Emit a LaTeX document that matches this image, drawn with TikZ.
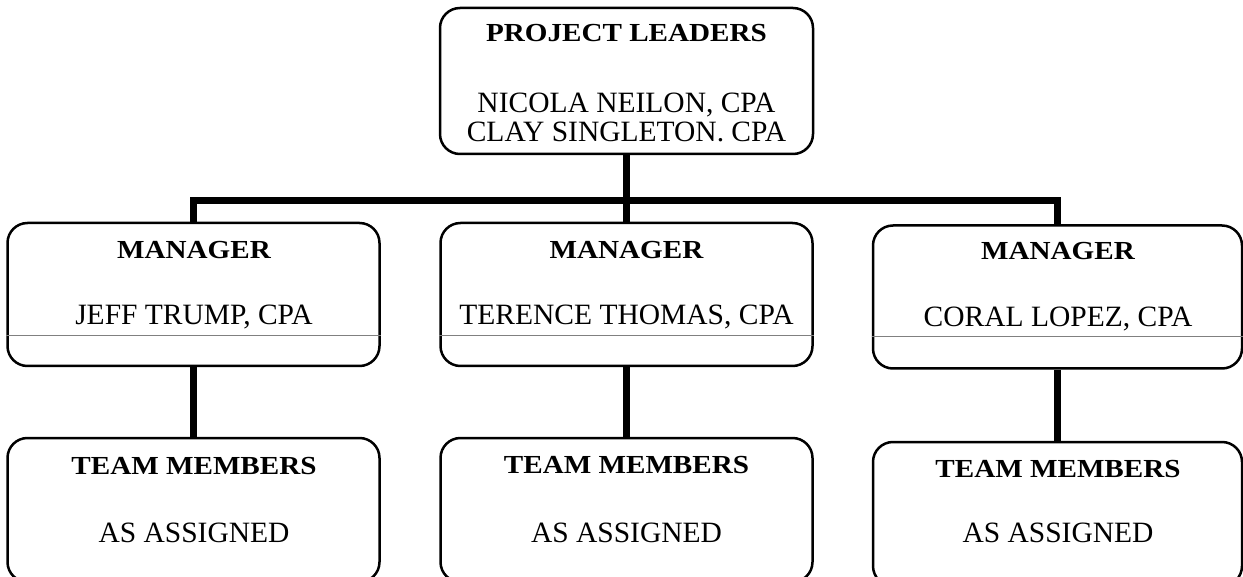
\documentclass[tikz,border=0pt]{standalone}
\usepackage{fontspec}
\setmainfont{Liberation Serif}[BoldFeatures={FakeStretch=1.12}]
\begin{document}
\begin{tikzpicture}[x=1pt,y=-1pt,
  box/.style={draw,line width=2.5pt,rounded corners=20pt,minimum width=372pt,minimum height=143pt,inner sep=0pt},
  lbl/.style={anchor=base,inner sep=0pt,font=\fontsize{29.5}{31}\selectfont},
  hd/.style={anchor=base,inner sep=0pt,font=\fontsize{26}{28}\selectfont\bfseries},
  conn/.style={line width=7pt},
  rulel/.style={gray,line width=0.8pt}]
\useasboundingbox (0,0) rectangle (1243,577);
% boxes
\node[box,minimum width=373pt,minimum height=146pt] (top) at (626.5,81) {};
\node[box] (m1) at (193.5,294.5) {};
\node[box] (m2) at (626.5,294.5) {};
\node[box,minimum width=369pt] (m3) at (1057.5,297) {};
\node[box,minimum height=144pt] (t1) at (193.5,510) {};
\node[box,minimum height=144pt] (t2) at (626.5,510) {};
\node[box,minimum width=369pt,minimum height=144pt] (t3) at (1057.5,514) {};
% connectors
\coordinate (bar) at (626.5,201);
\draw[conn] (top.south) -- (m2.north);
\draw[conn] (m1.north) |- (bar) -| (m3.north);
\draw[conn] (m1.south) -- (t1.north);
\draw[conn] (m2.south) -- (t2.north);
\draw[conn] (m3.south) -- (t3.north);
% thin rules in manager boxes
\coordinate (g1) at (0,335);
\coordinate (g3) at (0,336);
\draw[rulel] (m1.west |- g1) -- (m1.east |- g1);
\draw[rulel] (m2.west |- g1) -- (m2.east |- g1);
\draw[rulel] (m3.west |- g3) -- (m3.east |- g3);
% texts
\node[hd] (tl) at (626.5,42) {PROJECT LEADERS};
\node[lbl] (n1) at (626.5,113) {NICOLA NEILON, CPA};
\node[lbl] (n2) at (626.5,142) {CLAY SINGLETON. CPA};
\node[hd] (h1) at (194,259) {MANAGER};
\node[lbl] (p1) at (194,325) {JEFF TRUMP, CPA};
\node[hd] (h2) at (626.5,259) {MANAGER};
\node[lbl] (p2) at (626.5,325) {TERENCE THOMAS, CPA};
\node[hd] (h3) at (1058,260) {MANAGER};
\node[lbl] (p3) at (1058,327) {CORAL LOPEZ, CPA};
\node[hd] (e1) at (194,474) {TEAM MEMBERS};
\node[lbl] (a1) at (194,542) {AS ASSIGNED};
\node[hd] (e2) at (626.5,473) {TEAM MEMBERS};
\node[lbl] (a2) at (626.5,542) {AS ASSIGNED};
\node[hd] (e3) at (1058,477) {TEAM MEMBERS};
\node[lbl] (a3) at (1058,542) {AS ASSIGNED};
\end{tikzpicture}
\end{document}
